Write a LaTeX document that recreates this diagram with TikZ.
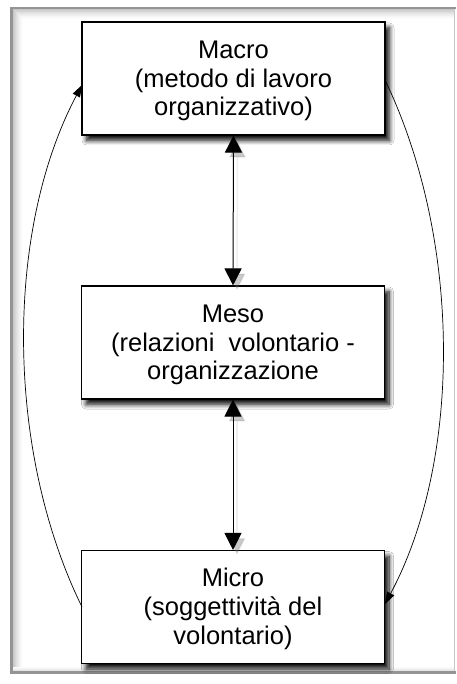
\documentclass[tikz,border=0pt]{standalone}
\usepackage{fontspec}
\setmainfont{Liberation Sans}
\usetikzlibrary{arrows.meta,shadows.blur}
\newcommand{\toplift}{\rule{0pt}{22.3pt}}
\tikzset{
  levelbox/.style={draw=black, line width=1.1pt, fill=white, minimum width=303pt, minimum height=113pt,
    align=center, inner sep=0pt, font=\fontsize{25.5}{28.6}\selectfont,
    blur shadow={shadow xshift=4.5pt, shadow yshift=-5.5pt, shadow blur radius=4.5pt, shadow blur steps=10, shadow opacity=95}},
  bigarrow/.style={line width=1pt, {Triangle[length=17pt,width=17pt]}-{Triangle[length=17pt,width=17pt]}},
  arrowshadow/.style={bigarrow, black!60, draw opacity=0.1, fill opacity=0.35, line width=1.5pt, transform canvas={xshift=4pt, yshift=-5pt}},
  loop arrow/.style={line width=0.7pt, -{Triangle[length=12pt,width=8pt]}},
  framedark/.style={fill=black!42, draw=none},
}
\begin{document}
\begin{tikzpicture}[x=1pt,y=-1pt]
\useasboundingbox (0,0) rectangle (456,684);
\fill[white] (0,0) rectangle (456,684);
% frame with inner fade
\foreach \i/\c in {0/22,1/19,2/16,3/13,4/10,5/8,6/6,7/4,8/2,9/1}{
  \fill[black!\c] (12.5+\i,9.5+\i) rectangle (454,671);
}
\fill[white] (22.5,19.5) rectangle (454,671);
\foreach \i/\c in {0/10,1/7,2/4,3/2}{
  \fill[black!\c] (12.5,671-\i-1) rectangle (454,671-\i);
}
\fill[framedark] (10,7) rectangle (456,9.5);
\fill[framedark] (10,7) rectangle (12.5,673.5);
\fill[framedark] (10,671) rectangle (456,673.5);
\draw[black!22, line width=0.8pt] (454,9.5) -- (454,671);

\node[levelbox] (macro) at (233.5,78.5) {\toplift Macro\\(metodo di lavoro\\organizzativo)};
\node[levelbox] (meso) at (233,342.5) {\toplift Meso\\(relazioni\ \ volontario -\\organizzazione};
\node[levelbox] (micro) at (233,607) {\toplift Micro\\(soggettività del\\volontario)};

\draw[arrowshadow] (macro.south) -- (meso.north);
\draw[arrowshadow] (meso.south) -- (micro.north);
\draw[bigarrow] (macro.south) -- (meso.north);
\draw[bigarrow] (meso.south) -- (micro.north);

\coordinate (lstart) at (82,607);
\coordinate (lend) at (82,85);
\coordinate (rstart) at (385,80);
\coordinate (rend) at (385,604);
\draw[loop arrow] (lstart) .. controls (5,450) and (5,230) .. (lend);
\draw[loop arrow] (rstart) .. controls (462,240) and (462,460) .. (rend);
\end{tikzpicture}
\end{document}
